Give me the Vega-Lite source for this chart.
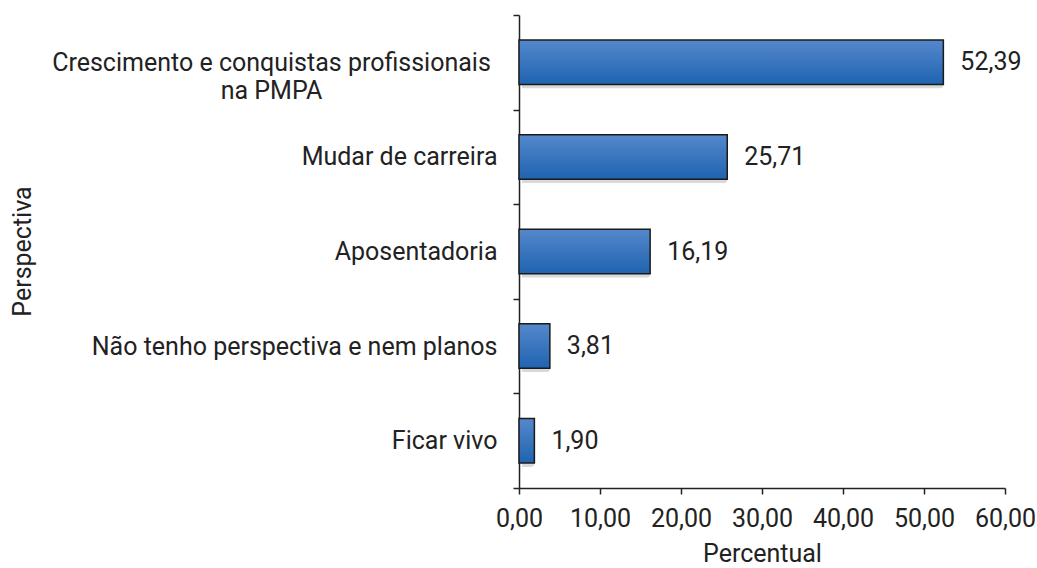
{
  "$schema": "https://vega.github.io/schema/vega-lite/v6.json",
  "width": 486,
  "height": 473,
  "autosize": "none",
  "padding": {"left": 519, "top": 15, "right": 32, "bottom": 80},
  "background": "white",
  "config": {
    "view": {"stroke": null},
    "font": "Roboto",
    "locale": {"number": {"decimal": ",", "thousands": ".", "grouping": [3], "currency": ["R$", ""]}}
  },
  "data": {
    "values": [
      {"perspectiva": "Crescimento e conquistas profissionais na PMPA", "percentual": 52.39},
      {"perspectiva": "Mudar de carreira", "percentual": 25.71},
      {"perspectiva": "Aposentadoria", "percentual": 16.19},
      {"perspectiva": "Não tenho perspectiva e nem planos", "percentual": 3.81},
      {"perspectiva": "Ficar vivo", "percentual": 1.90}
    ]
  },
  "encoding": {
    "y": {
      "field": "perspectiva",
      "type": "nominal",
      "sort": null,
      "scale": {"paddingInner": 0, "paddingOuter": 0},
      "axis": {
        "title": "Perspectiva",
        "titleFontSize": 25,
        "titleFontWeight": "normal",
        "titleColor": "#222",
        "titleX": -497,
        "titleY": 236,
        "titleBaseline": "middle",
        "titleAlign": "center",
        "titleAngle": -90,
        "labelFontSize": 25,
        "labelColor": "#222",
        "labelLimit": 700,
        "labelLineHeight": 28,
        "labelExpr": "datum.value == 'Crescimento e conquistas profissionais na PMPA' ? ['Crescimento e conquistas profissionais', 'na PMPA'] : datum.label",
        "labelAlign": {"condition": {"test": "datum.value == 'Crescimento e conquistas profissionais na PMPA'", "value": "center"}, "value": "right"},
        "labelPadding": {"condition": {"test": "datum.value == 'Crescimento e conquistas profissionais na PMPA'", "value": 242}, "value": 16},
        "domainColor": "#222",
        "domainWidth": 1.5,
        "tickColor": "#222",
        "tickWidth": 1.5,
        "tickSize": 6,
        "tickBand": "extent",
        "grid": false
      }
    }
  },
  "layer": [
    {
      "mark": {"type": "bar", "color": "#000", "opacity": 0.15, "xOffset": 3, "yOffset": 4, "cornerRadius": 3, "height": {"band": 0.47}},
      "encoding": {
        "x": {"field": "percentual", "type": "quantitative"}
      }
    },
    {
      "mark": {
        "type": "bar",
        "height": {"band": 0.47},
        "stroke": "#1b1b1b",
        "strokeWidth": 1.5,
        "color": {
          "gradient": "linear",
          "x1": 0, "y1": 0, "x2": 0, "y2": 1,
          "stops": [
            {"offset": 0, "color": "#5588cc"},
            {"offset": 1, "color": "#1f63b0"}
          ]
        }
      },
      "encoding": {
        "x": {
          "field": "percentual",
          "type": "quantitative",
          "scale": {"domain": [0, 60], "nice": false},
          "axis": {
            "title": "Percentual",
            "titleFontSize": 25,
            "titleFontWeight": "normal",
            "titleColor": "#222",
            "titlePadding": 10,
            "values": [0, 10, 20, 30, 40, 50, 60],
            "format": ".2f",
            "labelFontSize": 25,
            "labelColor": "#222",
            "labelPadding": 12,
            "labelOverlap": false,
            "labelFlush": false,
            "labelBound": false,
            "domainColor": "#222",
            "domainWidth": 1.5,
            "tickColor": "#222",
            "tickWidth": 1.5,
            "tickSize": 6,
            "grid": false
          }
        }
      }
    },
    {
      "mark": {"type": "text", "align": "left", "dx": 17, "fontSize": 25, "color": "#222"},
      "encoding": {
        "x": {"field": "percentual", "type": "quantitative"},
        "text": {"field": "percentual", "type": "quantitative", "format": ".2f"}
      }
    }
  ]
}
